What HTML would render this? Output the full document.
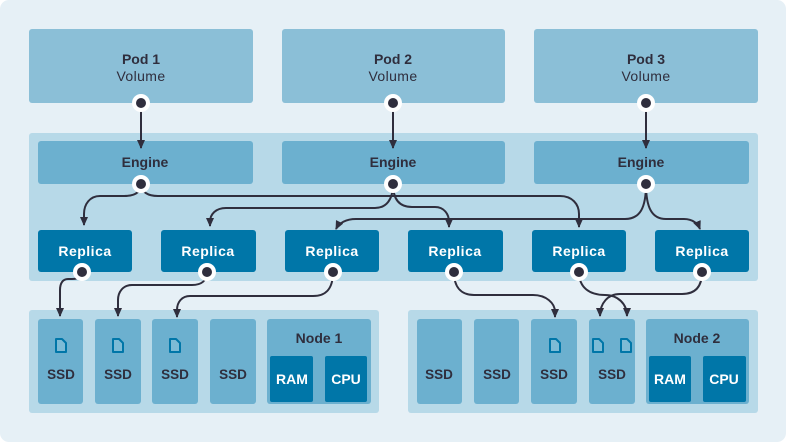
<!DOCTYPE html>
<html><head><meta charset="utf-8"><style>
html,body{margin:0;padding:0;background:#fff;}
svg{display:block;}
text{font-family:"Liberation Sans",sans-serif;}
.b{font-weight:bold;font-size:14px;fill:#2f2e3d;text-anchor:middle;}
.w{font-weight:bold;font-size:14px;fill:#fff;text-anchor:middle;letter-spacing:0.5px;}
.v{font-size:14px;fill:#2f2e3d;text-anchor:middle;letter-spacing:0.4px;}
.s{font-weight:bold;font-size:13.5px;fill:#2f2e3d;text-anchor:middle;}
.ln{fill:none;stroke:#2f2e3d;stroke-width:2;}
.ic{fill:#7dbbd6;stroke:#0076a8;stroke-width:2;stroke-linejoin:round;}
</style></head><body>
<svg width="786" height="442" viewBox="0 0 786 442" xmlns="http://www.w3.org/2000/svg">
<defs>
<marker id="a" markerWidth="9" markerHeight="8" refX="8" refY="4" orient="auto" markerUnits="userSpaceOnUse">
<path d="M0,0 L9,4 L0,8 z" fill="#2f2e3d"/>
</marker>
</defs>
<rect x="0" y="0" width="786" height="442" rx="9" fill="#e6f0f6"/>

<!-- Pods -->
<rect x="29" y="29" width="224" height="74" rx="3" fill="#8bbfd7"/>
<rect x="282" y="29" width="223" height="74" rx="3" fill="#8bbfd7"/>
<rect x="534" y="29" width="224" height="74" rx="3" fill="#8bbfd7"/>
<text class="b" x="141" y="64">Pod 1</text><text class="v" x="141" y="81">Volume</text>
<text class="b" x="393" y="64">Pod 2</text><text class="v" x="393" y="81">Volume</text>
<text class="b" x="646" y="64">Pod 3</text><text class="v" x="646" y="81">Volume</text>

<!-- Middle band -->
<rect x="29" y="133" width="729" height="148" rx="3" fill="#b7d9e8"/>
<rect x="38" y="141" width="215" height="43" rx="3" fill="#6cb0cf"/>
<rect x="282" y="141" width="223" height="43" rx="3" fill="#6cb0cf"/>
<rect x="534" y="141" width="215" height="43" rx="3" fill="#6cb0cf"/>
<text class="b" x="145" y="167">Engine</text>
<text class="b" x="393" y="167">Engine</text>
<text class="b" x="641" y="167">Engine</text>

<!-- Replicas -->
<g fill="#0076a8">
<rect x="38" y="230" width="94" height="42" rx="3"/>
<rect x="161" y="230" width="95" height="42" rx="3"/>
<rect x="285" y="230" width="94" height="42" rx="3"/>
<rect x="408" y="230" width="95" height="42" rx="3"/>
<rect x="532" y="230" width="94" height="42" rx="3"/>
<rect x="655" y="230" width="94" height="42" rx="3"/>
</g>
<text class="w" x="85" y="256">Replica</text>
<text class="w" x="208" y="256">Replica</text>
<text class="w" x="332" y="256">Replica</text>
<text class="w" x="455" y="256">Replica</text>
<text class="w" x="579" y="256">Replica</text>
<text class="w" x="702" y="256">Replica</text>

<!-- Node areas -->
<rect x="29" y="310" width="350" height="103" rx="3" fill="#b7d9e8"/>
<rect x="408" y="310" width="350" height="103" rx="3" fill="#b7d9e8"/>
<g fill="#6cb0cf">
<rect x="38" y="319" width="45" height="85" rx="3"/>
<rect x="95" y="319" width="46" height="85" rx="3"/>
<rect x="152" y="319" width="46" height="85" rx="3"/>
<rect x="210" y="319" width="46" height="85" rx="3"/>
<rect x="267" y="319" width="104" height="85" rx="3"/>
<rect x="417" y="319" width="45" height="85" rx="3"/>
<rect x="474" y="319" width="45" height="85" rx="3"/>
<rect x="531" y="319" width="46" height="85" rx="3"/>
<rect x="589" y="319" width="46" height="85" rx="3"/>
<rect x="646" y="319" width="103" height="85" rx="3"/>
</g>
<g fill="#0076a8">
<rect x="270" y="356" width="43" height="46" rx="2"/>
<rect x="325" y="356" width="42" height="46" rx="2"/>
<rect x="649" y="356" width="42" height="46" rx="2"/>
<rect x="703" y="356" width="43" height="46" rx="2"/>
</g>
<text class="s" x="61" y="379">SSD</text>
<text class="s" x="118" y="379">SSD</text>
<text class="s" x="175" y="379">SSD</text>
<text class="s" x="233" y="379">SSD</text>
<text class="b" x="319" y="343">Node 1</text>
<text class="w" x="292" y="384" style="letter-spacing:0">RAM</text>
<text class="w" x="346" y="384" style="letter-spacing:0">CPU</text>
<text class="s" x="439" y="379">SSD</text>
<text class="s" x="497" y="379">SSD</text>
<text class="s" x="554" y="379">SSD</text>
<text class="s" x="612" y="379">SSD</text>
<text class="b" x="697" y="343">Node 2</text>
<text class="w" x="670" y="384" style="letter-spacing:0">RAM</text>
<text class="w" x="724" y="384" style="letter-spacing:0">CPU</text>

<!-- doc icons -->
<g class="ic">
<path d="M56,339 L62,339 L66,343 L66,352 L56,352 Z"/>
<path d="M113,339 L119,339 L123,343 L123,352 L113,352 Z"/>
<path d="M170,339 L176,339 L180,343 L180,352 L170,352 Z"/>
<path d="M550,339 L556,339 L560,343 L560,352 L550,352 Z"/>
<path d="M593,339 L599,339 L603,343 L603,352 L593,352 Z"/>
<path d="M621,339 L627,339 L631,343 L631,352 L621,352 Z"/>
</g>

<!-- connectors -->
<g class="ln">
<path d="M141,103 L141,148" marker-end="url(#a)"/>
<path d="M393,103 L393,148" marker-end="url(#a)"/>
<path d="M646,103 L646,148" marker-end="url(#a)"/>

<path d="M141,184 C141,193 134,196 124,196 L100,196 C90,196 84,204 84,214 L84,225" marker-end="url(#a)"/>
<path d="M141,184 C141,192 148,196 158,196 L560,196 C572,196 579,204 579,214 L579,227" marker-end="url(#a)"/>

<path d="M393,184 C393,200 386,208 375,208 L226,208 C216,208 210,214 210,222 L210,226" marker-end="url(#a)"/>
<path d="M393,184 C393,200 400,207 412,207 L435,207 C444,207 449,214 449,222 L449,227" marker-end="url(#a)"/>

<path d="M646,184 C646,208 640,219 625,219 L356,219 C346,219 339,223 336,229" marker-end="url(#a)"/>
<path d="M646,184 C646,208 652,219 666,219 L684,219 C693,219 698,224 700,229" marker-end="url(#a)"/>

<path d="M82,272 C82,277 78,279 72,279 L68,279 C63,279 60,283 60,290 L60,316" marker-end="url(#a)"/>
<path d="M207,272 C207,281 201,285 192,285 L132,285 C123,285 118,292 118,300 L118,316" marker-end="url(#a)"/>
<path d="M333,272 C333,290 325,296 313,296 L190,296 C182,296 177,302 177,310 L177,317" marker-end="url(#a)"/>
<path d="M454,272 C454,287 461,295 474,295 L533,295 C546,295 555,303 555,312 L555,317" marker-end="url(#a)"/>
<path d="M579,272 C579,288 590,295 605,295 C618,295 627,304 627,316" marker-end="url(#a)"/>
<path d="M702,272 C702,287 695,294 682,294 L620,294 C608,294 600,303 600,316" marker-end="url(#a)"/>
</g>

<!-- dots -->
<g>
<circle cx="141" cy="103" r="9" fill="#fff"/><circle cx="141" cy="103" r="5" fill="#2f2e3d"/>
<circle cx="393" cy="103" r="9" fill="#fff"/><circle cx="393" cy="103" r="5" fill="#2f2e3d"/>
<circle cx="646" cy="103" r="9" fill="#fff"/><circle cx="646" cy="103" r="5" fill="#2f2e3d"/>
<circle cx="141" cy="184" r="9" fill="#fff"/><circle cx="141" cy="184" r="5" fill="#2f2e3d"/>
<circle cx="393" cy="184" r="9" fill="#fff"/><circle cx="393" cy="184" r="5" fill="#2f2e3d"/>
<circle cx="646" cy="184" r="9" fill="#fff"/><circle cx="646" cy="184" r="5" fill="#2f2e3d"/>
<circle cx="82" cy="272" r="9" fill="#fff"/><circle cx="82" cy="272" r="5" fill="#2f2e3d"/>
<circle cx="207" cy="272" r="9" fill="#fff"/><circle cx="207" cy="272" r="5" fill="#2f2e3d"/>
<circle cx="333" cy="272" r="9" fill="#fff"/><circle cx="333" cy="272" r="5" fill="#2f2e3d"/>
<circle cx="454" cy="272" r="9" fill="#fff"/><circle cx="454" cy="272" r="5" fill="#2f2e3d"/>
<circle cx="579" cy="272" r="9" fill="#fff"/><circle cx="579" cy="272" r="5" fill="#2f2e3d"/>
<circle cx="702" cy="272" r="9" fill="#fff"/><circle cx="702" cy="272" r="5" fill="#2f2e3d"/>
</g>
</svg>
</body></html>
